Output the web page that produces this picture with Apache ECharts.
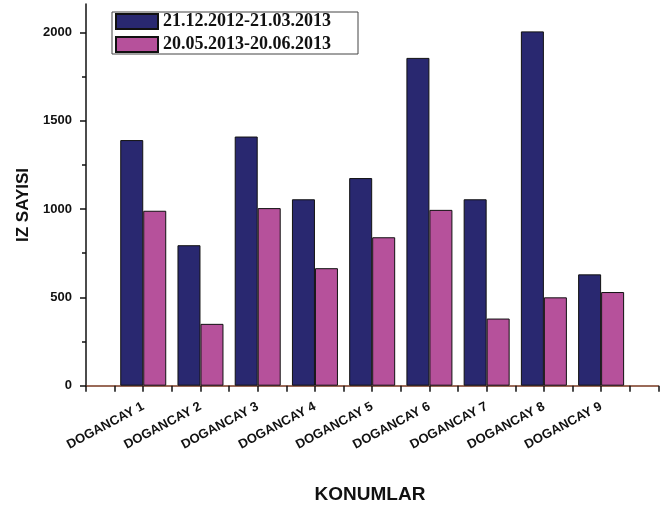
<!DOCTYPE html>
<html>
<head>
<meta charset="utf-8">
<script src="https://cdn.jsdelivr.net/npm/echarts@6/dist/echarts.min.js"></script>
<style>
html,body{margin:0;padding:0;background:#fff;}
#chart{width:661px;height:514px;}
</style>
</head>
<body>
<div id="chart"></div>
<script>
const categories = ['', 'DOGANCAY 1', 'DOGANCAY 2', 'DOGANCAY 3', 'DOGANCAY 4', 'DOGANCAY 5', 'DOGANCAY 6', 'DOGANCAY 7', 'DOGANCAY 8', 'DOGANCAY 9', ''];
const seriesNames = ['21.12.2012-21.03.2013', '20.05.2013-20.06.2013'];
const winterValues = [1390, 795, 1410, 1055, 1175, 1855, 1055, 2005, 630];
const summerValues = [990, 350, 1005, 665, 840, 995, 380, 500, 530];
const yMajorTicks = [0, 500, 1000, 1500, 2000];
const yMinorTicks = [250, 750, 1250, 1750];
const yAxisTitle = 'IZ SAYISI';
const xAxisTitle = 'KONUMLAR';

const pad = v => [null].concat(v, [null]);

const chart = echarts.init(document.getElementById('chart'), null, {renderer: 'canvas'});
const option = {
  animation: false,
  backgroundColor: '#ffffff',
  grid: {left: 86, top: 4, width: 575.5, height: 381.7},
  legend: {
    orient: 'vertical',
    left: 115,
    top: 12.5,
    padding: 0,
    itemGap: 5,
    itemWidth: 42,
    itemHeight: 15,
    itemTextGap: 5,
    icon: 'rect',
    textStyle: {fontFamily: 'Liberation Serif', fontWeight: 'bold', fontSize: 18, color: '#111'},
    data: seriesNames
  },
  graphic: [
    {type: 'rect', shape: {x: 112, y: 12, width: 246, height: 42}, style: {fill: 'none', stroke: '#444', lineWidth: 1}, z: 10},
    {type: 'text', x: 23, y: 205, rotation: Math.PI / 2,
     style: {text: yAxisTitle, font: 'bold 17px "Liberation Sans", Arial', fill: '#111', align: 'center', verticalAlign: 'middle'}},
    {type: 'text', x: 370, y: 495,
     style: {text: xAxisTitle, font: 'bold 19px "Liberation Sans", Arial', fill: '#111', align: 'center', verticalAlign: 'middle'}}
  ],
  xAxis: [
    {
      type: 'category',
      data: categories,
      boundaryGap: false,
      axisLine: {show: true, lineStyle: {color: '#7a3a22', width: 1.5}},
      axisTick: {show: false},
      axisLabel: {
        interval: 0, rotate: 28, margin: 20,
        fontFamily: 'Liberation Sans', fontWeight: 'bold', fontSize: 13, color: '#111'
      },
      splitLine: {show: false}
    },
    {
      type: 'value', min: 0, max: 10, interval: 0.5,
      position: 'bottom',
      axisLine: {show: false},
      axisTick: {show: true, inside: false, length: 6, lineStyle: {color: '#111', width: 1.5}},
      axisLabel: {show: false},
      splitLine: {show: false}
    }
  ],
  yAxis: [
    {
      type: 'value', min: 0, max: 2160,
      axisLine: {show: true, lineStyle: {color: '#111', width: 1.5}},
      axisTick: {show: true, length: 6, customValues: yMajorTicks, lineStyle: {color: '#111', width: 1.5}},
      axisLabel: {customValues: yMajorTicks, margin: 14, formatter: v => String(v),
                  fontFamily: 'Liberation Sans', fontWeight: 'bold', fontSize: 13, color: '#111'},
      splitLine: {show: false}
    },
    {
      type: 'value', min: 0, max: 2160, position: 'left',
      axisLine: {show: false},
      axisTick: {show: true, length: 4, customValues: yMinorTicks, lineStyle: {color: '#111', width: 1.5}},
      axisLabel: {show: false},
      splitLine: {show: false}
    }
  ],
  series: [
    {
      name: seriesNames[0], type: 'bar', xAxisIndex: 0, yAxisIndex: 0,
      data: pad(winterValues), barWidth: 23, barGap: '0%',
      itemStyle: {color: '#292870', borderColor: '#111', borderWidth: 1}
    },
    {
      name: seriesNames[1], type: 'bar', xAxisIndex: 0, yAxisIndex: 0,
      data: pad(summerValues), barWidth: 23, barGap: '0%',
      itemStyle: {color: '#b6519b', borderColor: '#111', borderWidth: 1}
    }
  ]
};
chart.setOption(option);
</script>
</body>
</html>
